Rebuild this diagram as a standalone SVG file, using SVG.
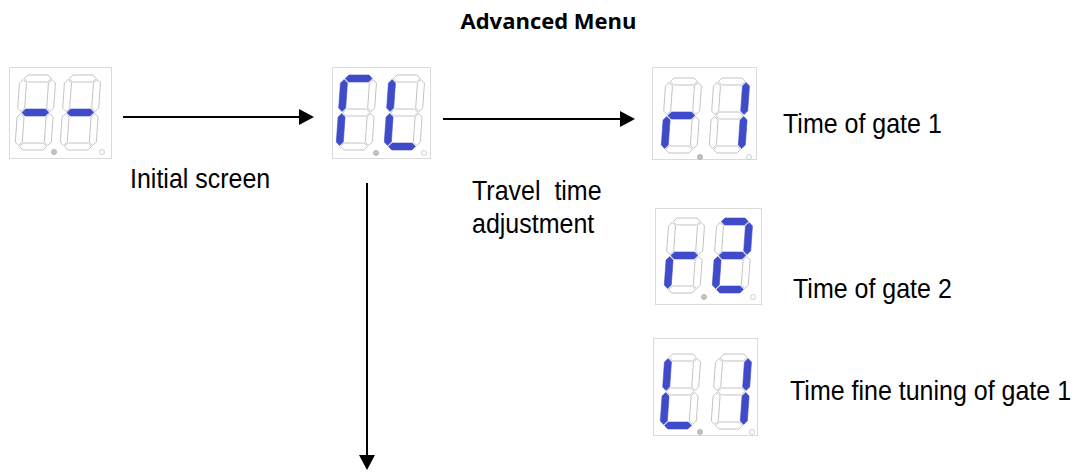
<svg xmlns="http://www.w3.org/2000/svg" xmlns:xlink="http://www.w3.org/1999/xlink" width="1086" height="475" viewBox="0 0 1086 475">
<style>
.bg{fill:#ffffff}
.box{fill:#ffffff;stroke:#dadada;stroke-width:1}
.off{fill:#ffffff;stroke:#bdbdbd;stroke-width:0.9}
.on{fill:#3f4bc9;stroke:#3f4bc9;stroke-width:0.6}
.dp1{fill:#c4c4c4;stroke:#a8a8a8;stroke-width:0.8}
.dp2{fill:#ffffff;stroke:#c4c4c4;stroke-width:0.8}
.lbl{font-family:"Liberation Sans",Arial,sans-serif;font-size:25px;fill:#000000;white-space:pre}
.title{font-family:"Open Sans","Liberation Sans",sans-serif;font-size:22px;font-weight:bold;fill:#000000}
.conn{fill:none;stroke:#000000;stroke-width:2}
</style>
<defs>
<marker id="ah" markerUnits="userSpaceOnUse" markerWidth="16" markerHeight="16" refX="1" refY="8" orient="auto">
<path d="M0,0 L15,8 L0,16 z" fill="#000000"/>
</marker>
<path id="sa" d="M4.5,3.5 L8,0 L28,0 L31.5,3.5 L28,7 L8,7 z"/>
<path id="sg" d="M4.5,37.5 L8,34 L28,34 L31.5,37.5 L28,41 L8,41 z"/>
<path id="sd" d="M4.5,71.5 L8,68 L28,68 L31.5,71.5 L28,75 L8,75 z"/>
<path id="sf" d="M3.5,4.5 L7,8 L7,33 L3.5,36.5 L0,33 L0,8 z"/>
<path id="sb" d="M32.5,4.5 L36,8 L36,33 L32.5,36.5 L29,33 L29,8 z"/>
<path id="se" d="M3.5,38.5 L7,42 L7,67 L3.5,70.5 L0,67 L0,42 z"/>
<path id="sc" d="M32.5,38.5 L36,42 L36,67 L32.5,70.5 L29,67 L29,42 z"/>
</defs>
<rect class="bg" x="0" y="0" width="1086" height="475"/>

<g id="title"><text class="title" x="548.5" y="29" text-anchor="middle">Advanced Menu</text></g>

<g id="display-initial">
<rect class="box" x="9.5" y="67.5" width="102" height="91"/>
<g transform="translate(20,75) skewX(-4)">
<use href="#sa" class="off"/><use href="#sb" class="off"/><use href="#sc" class="off"/><use href="#sd" class="off"/><use href="#se" class="off"/><use href="#sf" class="off"/><use href="#sg" class="on"/>
</g>
<g transform="translate(65,75) skewX(-4)">
<use href="#sa" class="off"/><use href="#sb" class="off"/><use href="#sc" class="off"/><use href="#sd" class="off"/><use href="#se" class="off"/><use href="#sf" class="off"/><use href="#sg" class="on"/>
</g>
<circle class="dp1" cx="54" cy="152" r="2.5"/><circle class="dp2" cx="102" cy="152" r="2.5"/>
</g>

<g id="display-cl">
<rect class="box" x="332.5" y="67.5" width="98" height="91"/>
<g transform="translate(341,75) skewX(-4)">
<use href="#sb" class="off"/><use href="#sc" class="off"/><use href="#sd" class="off"/><use href="#sg" class="off"/><use href="#sa" class="on"/><use href="#sf" class="on"/><use href="#se" class="on"/>
</g>
<g transform="translate(389,75) skewX(-4)">
<use href="#sa" class="off"/><use href="#sb" class="off"/><use href="#sc" class="off"/><use href="#sg" class="off"/><use href="#sf" class="on"/><use href="#se" class="on"/><use href="#sd" class="on"/>
</g>
<circle class="dp1" cx="376" cy="153" r="2.5"/><circle class="dp2" cx="424" cy="153" r="2.5"/>
</g>

<g id="display-r1">
<rect class="box" x="652.5" y="67.5" width="104" height="92"/>
<g transform="translate(666,78) skewX(-4)">
<use href="#sa" class="off"/><use href="#sb" class="off"/><use href="#sc" class="off"/><use href="#sd" class="off"/><use href="#sf" class="off"/><use href="#sg" class="on"/><use href="#se" class="on"/>
</g>
<g transform="translate(714,78) skewX(-4)">
<use href="#sa" class="off"/><use href="#sd" class="off"/><use href="#se" class="off"/><use href="#sf" class="off"/><use href="#sg" class="off"/><use href="#sb" class="on"/><use href="#sc" class="on"/>
</g>
<circle class="dp1" cx="700" cy="157" r="2.5"/><circle class="dp2" cx="749" cy="157" r="2.5"/>
</g>

<g id="display-r2">
<rect class="box" x="655.5" y="208.5" width="106" height="96"/>
<g transform="translate(669,218) skewX(-4)">
<use href="#sa" class="off"/><use href="#sb" class="off"/><use href="#sc" class="off"/><use href="#sd" class="off"/><use href="#sf" class="off"/><use href="#sg" class="on"/><use href="#se" class="on"/>
</g>
<g transform="translate(717,218) skewX(-4)">
<use href="#sc" class="off"/><use href="#sf" class="off"/><use href="#sa" class="on"/><use href="#sb" class="on"/><use href="#sg" class="on"/><use href="#se" class="on"/><use href="#sd" class="on"/>
</g>
<circle class="dp1" cx="704" cy="297" r="2.5"/><circle class="dp2" cx="753" cy="297" r="2.5"/>
</g>

<g id="display-l1">
<rect class="box" x="653.5" y="338.5" width="104" height="97"/>
<g transform="translate(665,354) skewX(-4)">
<use href="#sa" class="off"/><use href="#sb" class="off"/><use href="#sc" class="off"/><use href="#sg" class="off"/><use href="#sf" class="on"/><use href="#se" class="on"/><use href="#sd" class="on"/>
</g>
<g transform="translate(716,354) skewX(-4)">
<use href="#sa" class="off"/><use href="#sd" class="off"/><use href="#se" class="off"/><use href="#sf" class="off"/><use href="#sg" class="off"/><use href="#sb" class="on"/><use href="#sc" class="on"/>
</g>
<circle class="dp1" cx="700" cy="432" r="2.5"/><circle class="dp2" cx="752" cy="432" r="2.5"/>
</g>

<g id="connectors">
<path class="conn" d="M123,117 L300,117" marker-end="url(#ah)"/>
<path class="conn" d="M443,119 L621,119" marker-end="url(#ah)"/>
<path class="conn" d="M367,183 L367,456" marker-end="url(#ah)"/>
</g>

<g id="labels">
<text class="lbl" transform="translate(130,188) scale(1,1.1)">Initial screen</text>
<text class="lbl" xml:space="preserve" transform="translate(472,200) scale(1,1.1)">Travel  time</text>
<text class="lbl" transform="translate(472,233) scale(1,1.1)">adjustment</text>
<text class="lbl" transform="translate(783,133) scale(1,1.1)">Time of gate 1</text>
<text class="lbl" transform="translate(793,298) scale(1,1.1)">Time of gate 2</text>
<text class="lbl" transform="translate(790,400) scale(1,1.1)">Time fine tuning of gate 1</text>
</g>
</svg>
